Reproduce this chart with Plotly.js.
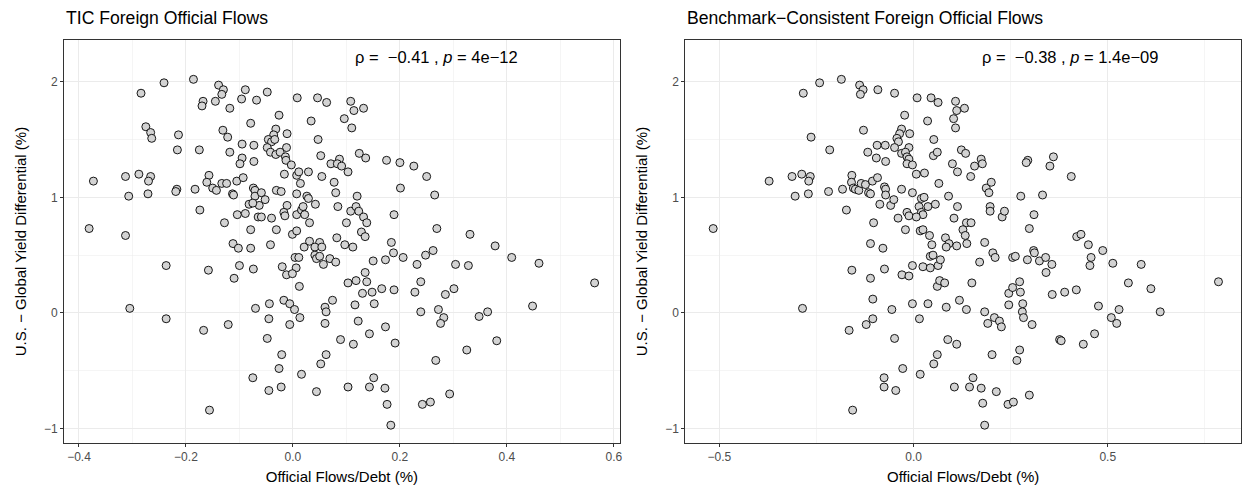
<!DOCTYPE html>
<html>
<head>
<meta charset="utf-8">
<script src="https://cdn.plot.ly/plotly-3.0.1.min.js"></script>
<style>html,body{margin:0;padding:0;background:#fff;}#chart{width:1243px;height:491px;}</style>
</head>
<body>
<div id="chart"></div>
<script>
// Left panel: TIC Foreign Official Flows
const ticX = [-0.241,-0.186,-0.284,-0.139,-0.130,-0.133,-0.089,-0.096,-0.068,-0.168,-0.170,-0.145,-0.118,-0.079,-0.275,-0.266,-0.264,-0.214,-0.216,-0.175,-0.131,-0.122,-0.095,-0.073,-0.118,-0.095,-0.099,-0.073,-0.373,-0.313,-0.288,-0.266,-0.270,-0.307,-0.271,-0.217,-0.219,-0.183,-0.157,-0.161,-0.150,-0.143,-0.133,-0.124,-0.105,-0.093,-0.113,-0.111,-0.074,-0.071,-0.071,-0.082,-0.174,-0.104,-0.089,-0.128,-0.079,-0.381,-0.313,-0.112,-0.102,-0.079,-0.065,
-0.237,-0.158,-0.100,-0.074,-0.110,-0.305,-0.237,-0.167,-0.121,-0.070,-0.075,-0.156,
-0.048,0.008,0.046,0.063,0.108,0.114,0.132,-0.026,0.034,0.096,0.110,-0.032,-0.011,-0.036,-0.046,-0.040,-0.034,-0.048,-0.012,-0.042,-0.032,-0.024,-0.014,-0.013,0.047,0.052,0.071,0.087,0.083,0.091,0.103,0.124,0.136,0.175,0.200,0.226,0.250,0.265,0.201,-0.003,-0.016,0.007,0.011,0.029,0.014,0.054,0.077,0.080,0.120,0.007,-0.059,-0.031,-0.022,-0.052,-0.063,-0.075,-0.011,-0.017,-0.015,-0.059,-0.040,0.007,0.016,0.019,0.026,0.029,0.022,0.031,0.042,0.084,0.108,0.118,0.123,0.132,0.138,0.100,0.189,0.269,-0.031,-0.001,0.007,0.128,0.135,-0.042,0.021,0.031,0.050,0.082,0.097,0.184,
0.331,0.378,
0.041,0.054,0.112,0.188,0.173,0.206,0.232,0.248,0.262,0.004,0.011,0.006,-0.020,-0.012,-0.001,0.012,0.041,0.044,0.050,0.057,0.069,0.080,0.150,0.135,0.138,0.103,0.118,0.130,0.148,0.166,0.189,0.152,0.116,0.074,0.060,0.062,0.060,0.122,0.143,0.173,0.191,0.089,0.113,0.228,0.239,0.285,0.239,0.272,0.282,0.276,0.267,0.293,0.242,0.257,-0.017,-0.006,0.003,0.013,-0.044,-0.045,-0.006,-0.048,-0.021,-0.026,0.016,-0.045,-0.022,0.062,0.052,0.044,0.103,0.143,0.151,0.172,0.176,0.183,
0.409,0.460,0.304,0.328,0.564,0.301,0.448,0.364,0.348,0.381,0.325];
const ticY = [1.99,2.02,1.90,1.97,1.93,1.89,1.93,1.85,1.84,1.83,1.79,1.83,1.77,1.64,1.61,1.56,1.51,1.54,1.41,1.41,1.58,1.52,1.46,1.45,1.39,1.34,1.29,1.31,1.14,1.18,1.20,1.18,1.14,1.01,1.03,1.07,1.05,1.07,1.19,1.13,1.08,1.06,1.12,1.12,1.14,1.17,1.03,1.02,1.08,1.06,1.01,0.94,0.89,0.85,0.86,0.78,0.72,0.73,0.67,0.60,0.56,0.56,0.83,
0.41,0.37,0.41,0.38,0.30,0.04,-0.05,-0.15,-0.10,0.04,-0.56,-0.84,
1.91,1.86,1.86,1.82,1.83,1.75,1.77,1.71,1.66,1.68,1.60,1.59,1.55,1.54,1.50,1.48,1.50,1.43,1.43,1.39,1.37,1.39,1.35,1.32,1.50,1.36,1.29,1.33,1.29,1.27,1.22,1.38,1.34,1.32,1.30,1.27,1.18,1.02,1.08,1.28,1.20,1.19,1.22,1.22,1.12,1.18,1.13,1.04,1.01,1.03,1.04,1.06,1.05,0.98,0.93,0.95,0.93,0.87,0.84,0.83,0.82,0.85,0.89,0.92,1.01,0.99,0.85,0.78,0.94,0.92,0.88,0.92,0.88,0.83,0.78,0.78,0.85,0.73,0.72,0.68,0.71,0.70,0.66,0.59,0.57,0.62,0.61,0.65,0.59,0.61,
0.68,0.58,
0.57,0.57,0.57,0.52,0.46,0.48,0.42,0.50,0.54,0.48,0.48,0.39,0.40,0.33,0.34,0.23,0.50,0.47,0.49,0.42,0.47,0.44,0.45,0.35,0.27,0.26,0.28,0.17,0.18,0.21,0.20,0.08,0.07,0.11,0.05,0.01,-0.09,-0.07,-0.18,-0.12,-0.26,-0.23,-0.27,0.18,0.27,0.16,0.01,0.03,-0.04,-0.09,-0.41,-0.70,-0.79,-0.77,0.11,0.08,0.03,-0.04,0.08,-0.05,-0.10,-0.22,-0.36,-0.48,-0.53,-0.67,-0.64,-0.36,-0.44,-0.68,-0.64,-0.64,-0.56,-0.65,-0.79,-0.97,
0.48,0.43,0.42,0.41,0.26,0.21,0.06,0.01,-0.03,-0.24,-0.32];

// Right panel: Benchmark-Consistent Foreign Official Flows
const bcX = [-0.242,-0.186,-0.284,-0.139,-0.130,-0.137,-0.092,-0.129,-0.264,-0.216,-0.094,-0.118,-0.096,-0.372,-0.313,-0.288,-0.266,-0.270,-0.305,-0.271,-0.219,-0.183,-0.159,-0.160,-0.155,-0.150,-0.141,-0.135,-0.124,-0.106,-0.093,-0.116,-0.111,-0.173,-0.087,-0.103,-0.111,-0.516,
-0.159,-0.111,-0.105,-0.105,-0.122,-0.166,-0.286,-0.157,
-0.049,0.009,0.045,0.063,0.108,0.111,0.131,-0.023,0.036,0.103,0.108,-0.031,-0.010,-0.036,-0.043,-0.039,-0.049,-0.073,-0.012,-0.031,-0.021,-0.017,-0.012,-0.072,-0.017,-0.003,0.007,0.028,0.052,0.051,0.061,0.123,0.134,0.100,0.113,0.147,0.157,0.174,0.177,0.294,0.290,0.360,0.351,0.065,-0.075,-0.072,-0.072,-0.031,-0.003,-0.059,-0.051,0.020,0.027,0.014,0.037,0.056,0.090,0.113,0.020,0.024,-0.017,-0.012,0.007,-0.040,-0.021,0.017,0.024,0.041,0.104,0.197,0.197,0.228,0.234,0.187,0.194,0.200,0.276,0.332,0.310,0.298,0.136,0.148,0.127,0.133,0.082,0.091,0.111,0.137,0.183,0.047,-0.079,0.309,
0.406,0.420,0.431,0.450,0.487,
-0.075,-0.056,-0.003,0.015,0.037,-0.049,-0.028,-0.076,-0.076,-0.046,0.017,-0.030,-0.012,-0.003,0.024,0.043,0.043,0.050,0.063,0.069,0.084,0.061,0.067,0.080,0.084,0.118,0.136,0.150,0.170,0.204,0.210,0.088,0.111,0.061,0.052,0.183,0.191,0.208,0.221,0.226,0.202,0.105,0.144,0.153,0.174,0.178,0.183,0.213,0.243,0.257,0.298,0.266,0.273,0.255,0.262,0.293,0.311,0.324,0.340,0.341,0.356,0.357,0.245,0.255,0.273,0.275,0.245,0.281,0.280,0.283,0.305,0.376,
0.457,0.454,0.513,0.586,0.553,0.611,0.785,0.389,0.419,0.476,0.529,0.509,0.523,0.635,0.380,0.437,0.466];
const bcY = [1.99,2.02,1.90,1.97,1.93,1.89,1.93,1.58,1.52,1.41,1.45,1.39,1.34,1.14,1.18,1.20,1.18,1.14,1.01,1.03,1.05,1.07,1.19,1.13,1.08,1.07,1.06,1.12,1.11,1.14,1.17,1.04,1.03,0.89,0.94,0.78,0.60,0.73,
0.37,0.30,0.12,-0.05,-0.10,-0.15,0.04,-0.84,
1.90,1.86,1.86,1.82,1.83,1.75,1.77,1.71,1.66,1.68,1.60,1.59,1.55,1.55,1.51,1.48,1.43,1.45,1.43,1.38,1.39,1.35,1.33,1.31,1.29,1.28,1.20,1.21,1.50,1.36,1.39,1.41,1.38,1.29,1.22,1.18,1.27,1.33,1.29,1.32,1.30,1.35,1.27,1.12,1.09,1.07,1.02,1.07,1.04,0.93,0.98,0.99,1.00,0.92,0.92,0.94,1.01,0.92,0.87,0.85,0.87,0.84,0.83,0.82,0.72,0.71,0.72,0.67,0.82,0.92,0.88,0.83,0.88,1.08,1.04,1.13,1.01,1.02,0.85,0.73,0.78,0.78,0.72,0.67,0.65,0.60,0.58,0.60,0.61,0.59,0.56,0.54,
1.18,0.66,0.68,0.59,0.54,
0.38,0.03,0.08,-0.05,0.08,-0.22,-0.48,-0.56,-0.64,-0.67,-0.53,0.33,0.32,0.41,0.40,0.39,0.49,0.50,0.41,0.46,0.57,0.23,0.28,0.26,0.05,0.11,0.03,0.26,0.44,0.52,0.48,-0.23,-0.27,-0.36,-0.44,0.01,-0.09,-0.04,-0.07,-0.12,-0.36,-0.64,-0.64,-0.56,-0.65,-0.78,-0.97,-0.68,-0.79,-0.77,-0.71,-0.41,-0.32,0.48,0.49,0.46,0.52,0.45,0.48,0.35,0.42,0.16,0.17,0.22,0.27,0.18,0.07,0.08,0.01,-0.04,-0.10,-0.23,
0.48,0.41,0.43,0.42,0.26,0.21,0.27,0.18,0.20,0.06,0.03,-0.04,-0.09,0.01,-0.24,-0.27,-0.18];

const leftTicks = [-0.4,-0.2,0.0,0.2,0.4,0.6];
const rightTicks = [-0.5,0.0,0.5];
const yTicks = [-1,0,1,2];
const titles = ['TIC Foreign Official Flows','Benchmark\u2212Consistent Foreign Official Flows'];
const statLabels = ['\u03c1 = \u00a0\u22120.41 , <i>p</i> = 4e\u221212','\u03c1 = \u00a0\u22120.38 , <i>p</i> = 1.4e\u221209'];
const xTitle = 'Official Flows/Debt (%)';
const yTitle = 'U.S. \u2212 Global Yield Differential (%)';

const FONT = 'Liberation Sans, Arial, Helvetica, sans-serif';
const marker = {size: 8, color: '#D3D3D3', line: {color: '#000000', width: 0.9}};

const traces = [
  {type: 'scatter', mode: 'markers', x: ticX, y: ticY, xaxis: 'x', yaxis: 'y', marker: marker, hoverinfo: 'x+y'},
  {type: 'scatter', mode: 'markers', x: bcX, y: bcY, xaxis: 'x2', yaxis: 'y2', marker: marker, hoverinfo: 'x+y'}
];

function xax(domain, range, ticks, minorStep) {
  return {
    domain: domain, range: range, tickvals: ticks, tickformat: '.1f',
    ticks: 'outside', ticklen: 3, tickwidth: 1, tickcolor: '#333333',
    showline: true, mirror: true, linecolor: '#333333', linewidth: 1,
    showgrid: true, gridcolor: '#EBEBEB', gridwidth: 1, zeroline: false,
    minor: {dtick: minorStep, tick0: 0, showgrid: true, gridcolor: '#EBEBEB', gridwidth: 0.5, ticks: ''},
    tickfont: {family: FONT, size: 12, color: '#4D4D4D'},
    title: {text: xTitle, font: {family: FONT, size: 15, color: '#000000'}, standoff: 8},
    fixedrange: true
  };
}
function yax(anchor) {
  return {
    anchor: anchor, domain: [0, 1], range: [-1.124, 2.36], tickvals: yTicks,
    ticks: 'outside', ticklen: 3, tickwidth: 1, tickcolor: '#333333',
    showline: true, mirror: true, linecolor: '#333333', linewidth: 1,
    showgrid: true, gridcolor: '#EBEBEB', gridwidth: 1, zeroline: false,
    minor: {dtick: 0.5, tick0: 0, showgrid: true, gridcolor: '#EBEBEB', gridwidth: 0.5, ticks: ''},
    tickfont: {family: FONT, size: 12, color: '#4D4D4D'},
    title: {text: yTitle, font: {family: FONT, size: 15, color: '#000000'}, standoff: 13},
    fixedrange: true
  };
}

const d1 = 556/1177.5;
const d2 = (685.5-64)/1177.5;

const layout = {
  width: 1243, height: 491,
  margin: {l: 64, r: 2, t: 40, b: 48},
  paper_bgcolor: '#FFFFFF', plot_bgcolor: '#FFFFFF',
  showlegend: false,
  font: {family: FONT, color: '#000000'},
  xaxis: xax([0, d1], [-0.428, 0.611], leftTicks, 0.1),
  yaxis: yax('x'),
  xaxis2: xax([d2, 1], [-0.588, 0.843], rightTicks, 0.25),
  yaxis2: yax('x2'),
  annotations: [
    {text: titles[0], xref: 'paper', yref: 'paper', x: 0, y: 1.055, xanchor: 'left', yanchor: 'middle', showarrow: false, font: {family: FONT, size: 17.6, color: '#000000'}},
    {text: titles[1], xref: 'paper', yref: 'paper', x: d2, y: 1.055, xanchor: 'left', yanchor: 'middle', showarrow: false, font: {family: FONT, size: 17.6, color: '#000000'}},
    {text: statLabels[0], xref: 'x', yref: 'y', x: 0.269, y: 2.21, xanchor: 'center', yanchor: 'middle', showarrow: false, font: {family: FONT, size: 16.5, color: '#000000'}},
    {text: statLabels[1], xref: 'x2', yref: 'y2', x: 0.4026, y: 2.21, xanchor: 'center', yanchor: 'middle', showarrow: false, font: {family: FONT, size: 16.5, color: '#000000'}}
  ]
};

Plotly.newPlot('chart', traces, layout, {displayModeBar: false, staticPlot: true});
</script>
</body>
</html>
